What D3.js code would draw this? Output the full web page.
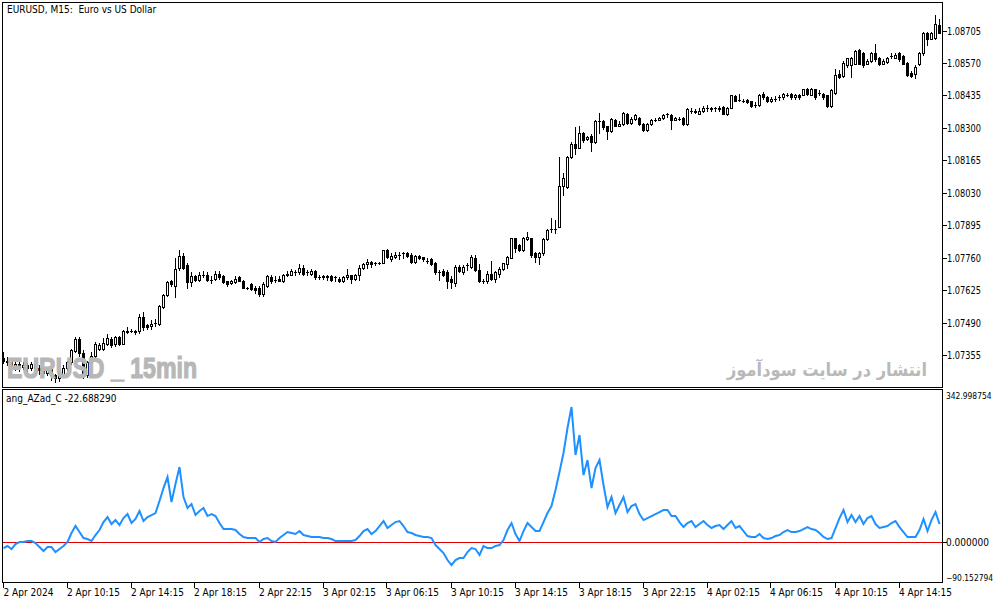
<!DOCTYPE html>
<html><head><meta charset="utf-8">
<script src="https://cdn.jsdelivr.net/npm/d3@7"></script>
<style>html,body{margin:0;padding:0;background:#fff;overflow:hidden}text{white-space:pre}</style>
</head><body><svg id="c" width="994" height="603"></svg>
<script>
const openP=[1.07341,1.07332,1.07324,1.07307,1.07316,1.07307,1.07312,1.07299,1.07316,1.07303,
1.07291,1.07282,1.07295,1.07270,1.07258,1.07274,1.07299,1.07324,1.07370,1.07420,
1.07362,1.07270,1.07324,1.07353,1.07382,1.07382,1.07403,1.07420,1.07399,1.07428,
1.07403,1.07449,1.07457,1.07453,1.07453,1.07515,1.07478,1.07474,1.07490,1.07486,
1.07553,1.07603,1.07661,1.07644,1.07719,1.07769,1.07728,1.07657,1.07682,1.07669,
1.07690,1.07690,1.07669,1.07673,1.07694,1.07682,1.07661,1.07653,1.07657,1.07678,
1.07665,1.07636,1.07649,1.07636,1.07632,1.07607,1.07644,1.07678,1.07669,1.07673,
1.07665,1.07686,1.07690,1.07699,1.07699,1.07719,1.07699,1.07694,1.07703,1.07678,
1.07678,1.07682,1.07682,1.07678,1.07673,1.07661,1.07678,1.07686,1.07673,1.07690,
1.07719,1.07732,1.07744,1.07736,1.07740,1.07740,1.07790,1.07753,1.07765,1.07773,
1.07778,1.07778,1.07773,1.07744,1.07769,1.07761,1.07748,1.07753,1.07740,1.07699,
1.07703,1.07699,1.07673,1.07653,1.07723,1.07699,1.07728,1.07723,1.07757,1.07707,
1.07665,1.07661,1.07694,1.07673,1.07694,1.07711,1.07732,1.07757,1.07840,1.07811,
1.07790,1.07836,1.07840,1.07778,1.07761,1.07778,1.07836,1.07881,1.07881,1.07886,
1.08060,1.08056,1.08177,1.08235,1.08218,1.08277,1.08252,1.08268,1.08243,1.08327,
1.08327,1.08306,1.08289,1.08335,1.08310,1.08318,1.08360,1.08322,1.08339,1.08343,
1.08318,1.08293,1.08318,1.08335,1.08335,1.08343,1.08356,1.08352,1.08335,1.08339,
1.08343,1.08318,1.08372,1.08368,1.08360,1.08372,1.08381,1.08385,1.08381,1.08385,
1.08389,1.08356,1.08385,1.08431,1.08418,1.08414,1.08418,1.08410,1.08397,1.08397,
1.08443,1.08427,1.08410,1.08422,1.08427,1.08427,1.08439,1.08443,1.08427,1.08439,
1.08439,1.08464,1.08439,1.08460,1.08447,1.08443,1.08435,1.08393,1.08447,1.08526,
1.08518,1.08560,1.08560,1.08568,1.08626,1.08610,1.08568,1.08580,1.08610,1.08593,
1.08568,1.08576,1.08601,1.08593,1.08610,1.08601,1.08572,1.08530,1.08526,1.08564,
1.08610,1.08697,1.08672,1.08676,1.08730];
const closeP=[1.07332,1.07324,1.07307,1.07316,1.07307,1.07312,1.07299,1.07316,1.07303,1.07291,
1.07282,1.07295,1.07270,1.07258,1.07274,1.07299,1.07324,1.07374,1.07420,1.07362,
1.07266,1.07324,1.07353,1.07399,1.07395,1.07407,1.07424,1.07395,1.07428,1.07399,
1.07453,1.07457,1.07457,1.07449,1.07515,1.07470,1.07470,1.07486,1.07490,1.07557,
1.07603,1.07657,1.07649,1.07711,1.07769,1.07719,1.07657,1.07682,1.07669,1.07690,
1.07690,1.07669,1.07669,1.07694,1.07678,1.07657,1.07649,1.07665,1.07673,1.07665,
1.07636,1.07632,1.07628,1.07624,1.07607,1.07649,1.07682,1.07661,1.07669,1.07665,
1.07686,1.07694,1.07703,1.07699,1.07719,1.07694,1.07699,1.07703,1.07678,1.07678,
1.07682,1.07678,1.07669,1.07678,1.07661,1.07678,1.07690,1.07673,1.07690,1.07719,
1.07732,1.07744,1.07732,1.07736,1.07736,1.07790,1.07761,1.07769,1.07773,1.07773,
1.07778,1.07769,1.07744,1.07769,1.07757,1.07753,1.07748,1.07732,1.07699,1.07699,
1.07690,1.07665,1.07657,1.07723,1.07703,1.07723,1.07728,1.07761,1.07707,1.07661,
1.07665,1.07694,1.07673,1.07699,1.07715,1.07736,1.07765,1.07840,1.07802,1.07790,
1.07844,1.07848,1.07773,1.07761,1.07778,1.07836,1.07877,1.07881,1.07881,1.08060,
1.08090,1.08181,1.08235,1.08218,1.08277,1.08248,1.08264,1.08243,1.08327,1.08327,
1.08302,1.08289,1.08339,1.08310,1.08318,1.08364,1.08322,1.08339,1.08352,1.08318,
1.08293,1.08318,1.08335,1.08335,1.08343,1.08352,1.08356,1.08335,1.08343,1.08339,
1.08318,1.08377,1.08372,1.08372,1.08372,1.08385,1.08381,1.08377,1.08381,1.08377,
1.08360,1.08385,1.08435,1.08414,1.08418,1.08414,1.08406,1.08393,1.08397,1.08439,
1.08427,1.08410,1.08422,1.08422,1.08427,1.08443,1.08439,1.08427,1.08435,1.08427,
1.08460,1.08443,1.08460,1.08427,1.08447,1.08427,1.08393,1.08456,1.08522,1.08514,
1.08572,1.08589,1.08589,1.08622,1.08568,1.08560,1.08580,1.08610,1.08585,1.08564,
1.08580,1.08593,1.08601,1.08605,1.08585,1.08568,1.08522,1.08518,1.08555,1.08610,
1.08697,1.08672,1.08697,1.08734,1.08697];
const highP=[1.07366,1.07345,1.07337,1.07324,1.07328,1.07324,1.07320,1.07328,1.07324,1.07312,
1.07299,1.07307,1.07299,1.07278,1.07287,1.07312,1.07332,1.07382,1.07428,1.07428,
1.07374,1.07332,1.07366,1.07411,1.07407,1.07424,1.07441,1.07432,1.07436,1.07436,
1.07461,1.07470,1.07465,1.07461,1.07524,1.07536,1.07486,1.07499,1.07507,1.07565,
1.07611,1.07665,1.07669,1.07757,1.07790,1.07778,1.07736,1.07699,1.07690,1.07699,
1.07703,1.07699,1.07682,1.07703,1.07703,1.07686,1.07665,1.07669,1.07682,1.07682,
1.07669,1.07640,1.07653,1.07644,1.07644,1.07657,1.07690,1.07686,1.07682,1.07682,
1.07694,1.07703,1.07711,1.07707,1.07732,1.07728,1.07707,1.07711,1.07707,1.07686,
1.07690,1.07690,1.07686,1.07682,1.07678,1.07682,1.07715,1.07690,1.07694,1.07728,
1.07740,1.07753,1.07748,1.07744,1.07744,1.07794,1.07798,1.07778,1.07782,1.07782,
1.07782,1.07782,1.07778,1.07773,1.07773,1.07765,1.07757,1.07757,1.07744,1.07707,
1.07715,1.07707,1.07682,1.07728,1.07728,1.07728,1.07736,1.07773,1.07773,1.07732,
1.07673,1.07703,1.07748,1.07703,1.07723,1.07740,1.07769,1.07844,1.07844,1.07815,
1.07848,1.07865,1.07844,1.07782,1.07782,1.07840,1.07881,1.07927,1.07915,1.08181,
1.08114,1.08185,1.08243,1.08302,1.08310,1.08281,1.08268,1.08273,1.08331,1.08364,
1.08331,1.08310,1.08343,1.08339,1.08327,1.08368,1.08364,1.08347,1.08356,1.08347,
1.08322,1.08322,1.08339,1.08343,1.08347,1.08356,1.08364,1.08356,1.08347,1.08347,
1.08347,1.08381,1.08381,1.08377,1.08381,1.08393,1.08397,1.08389,1.08389,1.08393,
1.08393,1.08389,1.08439,1.08435,1.08443,1.08422,1.08422,1.08414,1.08406,1.08443,
1.08451,1.08431,1.08427,1.08431,1.08435,1.08447,1.08447,1.08447,1.08443,1.08443,
1.08464,1.08468,1.08468,1.08464,1.08456,1.08447,1.08439,1.08460,1.08547,1.08539,
1.08580,1.08593,1.08597,1.08626,1.08630,1.08614,1.08585,1.08614,1.08651,1.08597,
1.08585,1.08597,1.08610,1.08610,1.08614,1.08605,1.08576,1.08535,1.08560,1.08614,
1.08701,1.08701,1.08701,1.08768,1.08755];
const lowP=[1.07320,1.07312,1.07295,1.07291,1.07287,1.07295,1.07282,1.07291,1.07291,1.07278,
1.07266,1.07270,1.07253,1.07241,1.07245,1.07266,1.07291,1.07316,1.07366,1.07353,
1.07258,1.07262,1.07316,1.07345,1.07374,1.07374,1.07395,1.07387,1.07391,1.07395,
1.07399,1.07445,1.07449,1.07441,1.07445,1.07461,1.07465,1.07465,1.07474,1.07482,
1.07549,1.07599,1.07644,1.07595,1.07707,1.07711,1.07632,1.07644,1.07665,1.07661,
1.07678,1.07665,1.07653,1.07669,1.07673,1.07653,1.07644,1.07649,1.07653,1.07661,
1.07632,1.07628,1.07624,1.07615,1.07599,1.07599,1.07640,1.07653,1.07657,1.07661,
1.07657,1.07682,1.07686,1.07690,1.07694,1.07690,1.07690,1.07690,1.07673,1.07673,
1.07673,1.07669,1.07665,1.07661,1.07657,1.07657,1.07673,1.07653,1.07669,1.07669,
1.07715,1.07719,1.07723,1.07728,1.07732,1.07736,1.07757,1.07748,1.07757,1.07753,
1.07757,1.07765,1.07740,1.07740,1.07753,1.07748,1.07736,1.07728,1.07694,1.07669,
1.07682,1.07636,1.07636,1.07644,1.07699,1.07694,1.07707,1.07719,1.07703,1.07657,
1.07653,1.07653,1.07669,1.07657,1.07678,1.07707,1.07719,1.07757,1.07782,1.07786,
1.07786,1.07832,1.07761,1.07744,1.07732,1.07773,1.07832,1.07865,1.07861,1.07886,
1.08023,1.08052,1.08173,1.08193,1.08218,1.08243,1.08248,1.08206,1.08239,1.08277,
1.08297,1.08256,1.08285,1.08306,1.08306,1.08314,1.08318,1.08318,1.08335,1.08314,
1.08289,1.08289,1.08314,1.08327,1.08331,1.08339,1.08347,1.08297,1.08331,1.08331,
1.08314,1.08314,1.08364,1.08364,1.08356,1.08368,1.08372,1.08372,1.08372,1.08372,
1.08356,1.08352,1.08381,1.08410,1.08410,1.08406,1.08402,1.08389,1.08389,1.08393,
1.08422,1.08406,1.08406,1.08414,1.08418,1.08422,1.08431,1.08422,1.08422,1.08422,
1.08435,1.08439,1.08435,1.08422,1.08439,1.08422,1.08389,1.08389,1.08443,1.08506,
1.08514,1.08555,1.08510,1.08564,1.08564,1.08555,1.08564,1.08576,1.08580,1.08560,
1.08564,1.08572,1.08593,1.08589,1.08580,1.08564,1.08518,1.08514,1.08506,1.08560,
1.08605,1.08643,1.08668,1.08672,1.08693];
const angValues=[-13.9,-9.4,-16.2,-4.9,-0.4,-0.4,1.8,1.8,-2.7,-11.7,
-20.6,-11.7,-11.7,-22.9,-16.2,-9.4,-0.4,19.7,35.5,22.0,
8.5,6.3,1.8,15.3,26.5,44.4,55.7,39.9,48.9,37.7,
53.4,62.4,42.2,51.2,69.1,46.7,55.7,60.1,64.6,91.6,
120.7,145.4,89.3,129.7,167.9,100.5,75.9,84.8,60.1,69.1,
75.9,57.9,62.4,57.9,42.2,28.7,28.7,28.7,26.5,17.5,
10.8,8.5,8.5,8.5,-0.4,6.3,8.5,1.8,-0.4,8.5,
15.3,22.0,19.7,17.5,24.2,15.3,13.0,10.8,10.8,10.8,
8.5,8.5,6.3,1.8,1.8,1.8,1.8,1.8,4.0,13.0,
24.2,28.7,17.5,24.2,35.5,46.7,31.0,37.7,44.4,46.7,
35.5,22.0,19.7,15.3,13.0,10.8,10.8,8.5,-7.2,-16.2,
-25.1,-40.8,-52.1,-40.8,-36.4,-36.4,-22.9,-13.9,-16.2,-29.6,
-9.4,-13.9,-13.9,-9.4,-7.2,4.0,26.5,42.2,17.5,1.8,
24.2,42.2,33.2,24.2,24.2,44.4,64.6,80.3,116.3,156.7,
199.3,255.4,302.5,194.8,239.7,149.9,183.6,120.7,165.6,183.6,
127.5,78.1,100.5,64.6,82.6,100.5,66.9,80.3,84.8,62.4,
48.9,53.4,57.9,62.4,66.9,71.4,71.4,57.9,57.9,44.4,
33.2,42.2,46.7,33.2,39.9,46.7,37.7,31.0,35.5,37.7,
28.7,37.7,46.7,31.0,35.5,24.2,13.0,10.8,10.8,17.5,
8.5,6.3,8.5,13.0,15.3,22.0,26.5,22.0,22.0,24.2,
28.7,33.2,28.7,26.5,19.7,10.8,6.3,8.5,31.0,53.4,
71.4,44.4,60.1,44.4,57.9,39.9,53.4,57.9,39.9,31.0,
33.2,35.5,42.2,46.7,33.2,22.0,10.8,10.8,10.8,26.5,
51.2,24.2,48.9,66.9,39.9];
const priceTicks=[1.08705,1.08570,1.08435,1.08300,1.08165,1.08030,1.07895,1.07760,1.07625,1.07490,1.07355];
const indTicks=[342.998754,0,-90.152794];
const timeLabels=["2 Apr 2024","2 Apr 10:15","2 Apr 14:15","2 Apr 18:15","2 Apr 22:15","3 Apr 02:15","3 Apr 06:15","3 Apr 10:15","3 Apr 14:15","3 Apr 18:15","3 Apr 22:15","4 Apr 02:15","4 Apr 06:15","4 Apr 10:15","4 Apr 14:15"];
const timeBars=[0,16,32,48,64,80,96,112,128,144,160,176,192,208,224];

const svg=d3.select('#c');
const FONT='Tahoma, "DejaVu Sans Condensed", "Liberation Sans", Arial, sans-serif';
const L=2.5,R=942.5,mT=2.5,mB=387.5,iT=389.5,iB=582.5;
const n=closeP.length;
const x=d3.scaleLinear().domain([0,n-1]).range([3.5,3.5+4*(n-1)]);
const yP=d3.scaleLinear().domain([1.07222,1.08824]).range([387,2]);
const yI=d3.scaleLinear().domain([-90.152794,342.998754]).range([582,389]);

svg.append('rect').attr('width',994).attr('height',603).attr('fill','#fff');
const defs=svg.append('defs');
defs.append('clipPath').attr('id','cm').append('rect').attr('x',3).attr('y',3).attr('width',939).attr('height',384);
defs.append('clipPath').attr('id','ci').append('rect').attr('x',3).attr('y',390).attr('width',939).attr('height',192);

// candles
const gc=svg.append('g').attr('clip-path','url(#cm)').attr('shape-rendering','crispEdges');
const px=v=>Math.round(v)+0.5;
d3.range(n).forEach(i=>{
  const cx=x(i);
  const o=openP[i],c=closeP[i],h=highP[i],l=lowP[i];
  gc.append('line').attr('x1',cx).attr('x2',cx).attr('y1',px(yP(h))-0.5).attr('y2',px(yP(l))+0.5)
    .attr('stroke','#000').attr('stroke-width',1);
  const t=px(yP(Math.max(o,c))),b=px(yP(Math.min(o,c)));
  if(b-t<1){
    gc.append('line').attr('x1',cx-1.5).attr('x2',cx+1.5).attr('y1',t).attr('y2',t).attr('stroke','#000');
  } else {
    gc.append('rect').attr('x',cx-1).attr('y',t).attr('width',2).attr('height',b-t)
      .attr('fill',c>=o?'#fff':'#000').attr('stroke','#000').attr('stroke-width',1);
  }
});

// watermarks
svg.append('text').attr('x',7).attr('y',378).attr('font-family','"Liberation Sans Narrow","Liberation Sans",Arial,sans-serif')
  .attr('font-weight','bold').attr('font-size',29).attr('fill','#b7b7b7').attr('stroke','#b7b7b7').attr('stroke-width',1.2)
  .attr('textLength',190).attr('lengthAdjust','spacingAndGlyphs').text('EURUSD _ 15min');
svg.append('text').attr('x',927).attr('y',376).attr('text-anchor','end').attr('font-family','"DejaVu Sans",sans-serif')
  .attr('font-weight','bold').attr('font-size',18).attr('fill','#b9b9b9')
  .attr('textLength',200).attr('lengthAdjust','spacingAndGlyphs').text('انتشار در سایت سودآموز');

// indicator
const gi=svg.append('g').attr('clip-path','url(#ci)');
gi.append('line').attr('x1',L).attr('x2',R).attr('y1',px(yI(0))).attr('y2',px(yI(0)))
  .attr('stroke','#e00000').attr('stroke-width',1).attr('shape-rendering','crispEdges');
gi.append('path').datum(angValues).attr('fill','none').attr('stroke','#1e90ff').attr('stroke-width',2)
  .attr('stroke-linejoin','miter')
  .attr('d',d3.line().x((d,i)=>x(i)).y(d=>yI(d)));

// frames
const gf=svg.append('g').attr('shape-rendering','crispEdges').attr('fill','none').attr('stroke','#000');
gf.append('rect').attr('x',L).attr('y',mT).attr('width',R-L).attr('height',mB-mT);
gf.append('rect').attr('x',L).attr('y',iT).attr('width',R-L).attr('height',iB-iT);

// price axis
const ga=svg.append('g');
priceTicks.forEach(p=>{
  const y=Math.round(yP(p))+0.5;
  ga.append('line').attr('x1',R).attr('x2',R+4).attr('y1',y).attr('y2',y).attr('stroke','#000').attr('shape-rendering','crispEdges');
  ga.append('text').attr('x',947).attr('y',y+3.5).attr('font-family',FONT).attr('font-size',10).attr('fill','#000')
    .attr('textLength',34).attr('lengthAdjust','spacingAndGlyphs').text(d3.format('.5f')(p));
});
indTicks.forEach((v,k)=>{
  const y=Math.round(yI(v))+0.5;
  if(k===1) ga.append('line').attr('x1',R).attr('x2',R+4).attr('y1',y).attr('y2',y).attr('stroke','#000').attr('shape-rendering','crispEdges');
  const ty=k===0?y+9:(k===2?y-2:y+3.5);
  const s=d3.format('.6f')(v);
  ga.append('text').attr('x',946).attr('y',ty).attr('font-family',FONT).attr('font-size',k===1?10:8.4).attr('fill','#000').text(s);
});

// time axis
timeBars.forEach((b,k)=>{
  const tx=Math.round(x(b))-0.5;
  ga.append('line').attr('x1',tx).attr('x2',tx).attr('y1',iB).attr('y2',iB+5).attr('stroke','#000').attr('shape-rendering','crispEdges');
  ga.append('text').attr('x',tx+(k===0?0:-0.5)).attr('y',596).attr('font-family',FONT).attr('font-size',10).attr('fill','#000').text(timeLabels[k]);
});

// titles
svg.append('text').attr('x',7).attr('y',13).attr('font-family',FONT).attr('font-size',10).attr('fill','#000').text('EURUSD, M15:  Euro vs US Dollar');
svg.append('text').attr('x',6).attr('y',402).attr('font-family',FONT).attr('font-size',10).attr('fill','#000').text('ang_AZad_C -22.688290');
</script></body></html>
